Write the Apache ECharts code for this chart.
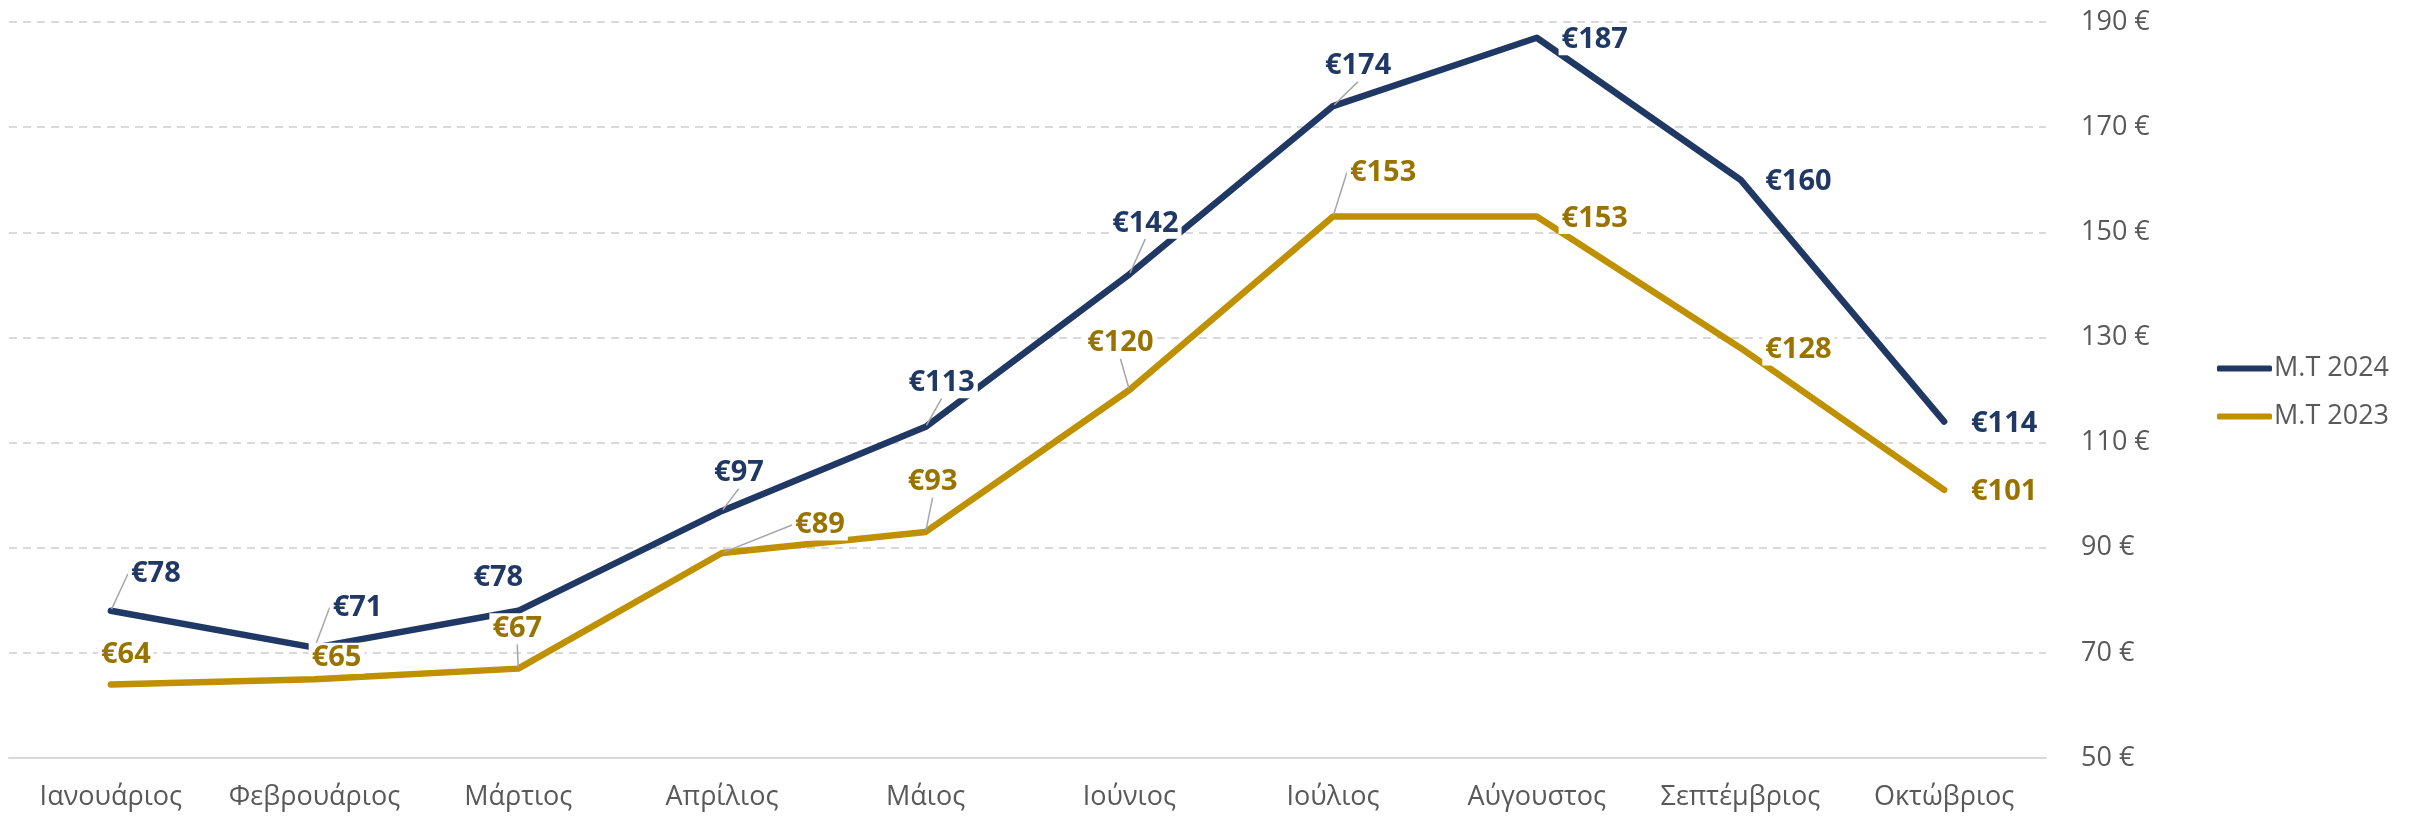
<!DOCTYPE html>
<html>
<head>
<meta charset="utf-8">
<script src="https://cdn.jsdelivr.net/npm/echarts@6/dist/echarts.min.js"></script>
<style>
  html, body { margin: 0; padding: 0; background: #fff; }
  #chart { width: 2422px; height: 818px; }
</style>
</head>
<body>
<div id="chart"></div>
<script>
// months on the x axis
var months = ['Ιανουάριος', 'Φεβρουάριος', 'Μάρτιος', 'Απρίλιος', 'Μάιος',
              'Ιούνιος', 'Ιούλιος', 'Αύγουστος', 'Σεπτέμβριος', 'Οκτώβριος'];
var names = ['M.T 2024', 'M.T 2023'];
var mt2024 = [78, 71, 78, 97, 113, 142, 174, 187, 160, 114];
var mt2023 = [64, 65, 67, 89, 93, 120, 153, 153, 128, 101];

// label placement (px from the point), like the excel labels that were dragged around
var off2024 = [[45,-37],[43,-40],[-20,-33],[17,-38],[16,-44],[16,-51],[25,-40],[58,2],[58,2],[60,2]];
var off2023 = [[15,-30],[22,-21],[-1,-40],[98,-28],[7,-50],[-9,-47],[50,-44],[58,2],[58,2],[60,2]];
var guide2024 = [1,1,0,1,1,1,1,0,0,0];
var guide2023 = [0,0,1,1,1,1,1,0,0,0];

var NAVY = '#203864', GOLD = '#BF9000', GOLD_TXT = '#997300', GREY = '#595959';
var FONT = '"Open Sans", sans-serif';

function build_items(vals, guide){
  return vals.map(function(v, i){
    return { value: v, labelLine: { show: !!guide[i] } };
  });
}

function make_series(name, vals, guide, lineColor, txtColor){
  return {
    name: name,
    type: 'line',
    data: build_items(vals, guide),
    symbol: 'circle',
    symbolSize: 3,
    showSymbol: true,
    itemStyle: { color: lineColor },
    lineStyle: { color: lineColor, width: 6.5, cap: 'round', join: 'round' },
    label: {
      show: true,
      position: 'inside',
      formatter: function(p){ return '€' + p.value; },
      color: txtColor,
      fontFamily: FONT,
      fontWeight: 'bold',
      fontSize: 29,
      backgroundColor: '#fff',
      padding: [1, 3]
    },
    labelLine: { show: true, lineStyle: { color: '#A6A6A6', width: 1.5 } },
    emphasis: { disabled: true },
    silent: true
  };
}

var offsets = [off2024, off2023];

var dom = document.getElementById('chart');
var myChart = echarts.init(dom);

var option = {
  animation: false,
  backgroundColor: '#fff',
  grid: { left: 9, right: 376, top: 22, bottom: 60 },
  legend: {
    orient: 'vertical',
    left: 2212,
    top: 350,
    itemWidth: 55,
    itemHeight: 6,
    itemGap: 21,
    icon: 'roundRect',
    textStyle: { color: GREY, fontFamily: FONT, fontSize: 27, padding: [0, 0, 0, -3] },
    data: names
  },
  xAxis: {
    type: 'category',
    data: months,
    boundaryGap: true,
    axisLine: { lineStyle: { color: '#D9D9D9', width: 2 } },
    axisTick: { show: false },
    axisLabel: { color: GREY, fontFamily: FONT, fontSize: 27, margin: 26, interval: 0 }
  },
  yAxis: {
    type: 'value',
    position: 'right',
    min: 50,
    max: 190,
    interval: 20,
    axisLine: { show: false },
    axisTick: { show: false },
    axisLabel: { color: GREY, fontFamily: FONT, fontSize: 27, margin: 35, formatter: '{value} €' },
    splitLine: { lineStyle: { color: '#D9D9D9', width: 2, type: [8, 6] } }
  },
  series: [
    make_series(names[0], mt2024, guide2024, NAVY, NAVY),
    make_series(names[1], mt2023, guide2023, GOLD, GOLD_TXT)
  ]
};

// each series moves its own labels
option.series.forEach(function(s){
  s.labelLayout = function(params){
    var o = offsets[params.seriesIndex][params.dataIndex];
    return { dx: o[0], dy: o[1] };
  };
});

myChart.setOption(option, true);
</script>
</body>
</html>
